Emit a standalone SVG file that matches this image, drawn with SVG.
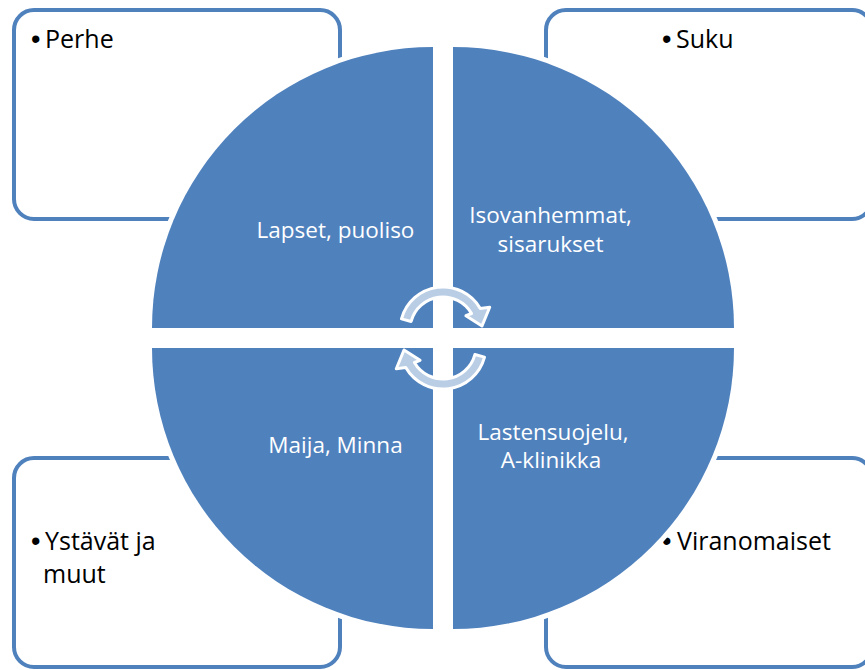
<svg xmlns="http://www.w3.org/2000/svg" width="865" height="670" viewBox="0 0 865 670">
  <style>
    .box { fill: #FFFFFF; stroke: #4F81BD; stroke-width: 4; }
    .sector { fill: #4F81BD; stroke: #FFFFFF; stroke-width: 10; paint-order: stroke; }
    .arrow { fill: #B9CDE5; stroke: #FFFFFF; stroke-width: 3; stroke-linejoin: round; }
    .lbl { font-family: "Open Sans", "Liberation Sans", sans-serif; font-size: 25px; fill: #000000; }
    .bul { font-family: "Liberation Sans", sans-serif; font-size: 27px; }
    .wlbl { font-family: "Open Sans", "Liberation Sans", sans-serif; font-size: 22.5px; fill: #FFFFFF; text-anchor: middle; }
  </style>
  <rect width="865" height="670" fill="#FFFFFF"/>

  <g id="box-perhe">
    <rect class="box" x="14" y="10" width="326" height="209" rx="20" ry="20"/>
    <text class="lbl" y="48"><tspan class="bul" x="31">•</tspan><tspan x="45">Perhe</tspan></text>
  </g>
  <g id="box-suku">
    <rect class="box" x="546" y="10" width="326" height="209" rx="20" ry="20"/>
    <text class="lbl" y="48"><tspan class="bul" x="662">•</tspan><tspan x="676">Suku</tspan></text>
  </g>
  <g id="box-ystavat">
    <rect class="box" x="14" y="458" width="326" height="209" rx="20" ry="20"/>
    <text class="lbl" y="550"><tspan class="bul" x="31">•</tspan><tspan x="45">Ystävät ja</tspan></text>
    <text class="lbl" x="43" y="583">muut</text>
  </g>
  <g id="box-viranomaiset">
    <rect class="box" x="546" y="458" width="326" height="209" rx="20" ry="20"/>
    <text class="lbl" y="550"><tspan class="bul" x="662">•</tspan><tspan x="677">Viranomaiset</tspan></text>
  </g>

  <g id="sector-perhe">
    <path class="sector" d="M433,328 L152,328 A281,281 0 0 1 433,47 Z"/>
    <text class="wlbl" x="335.5" y="238">Lapset, puoliso</text>
  </g>
  <g id="sector-suku">
    <path class="sector" d="M453,328 L453,47 A281,281 0 0 1 734,328 Z"/>
    <text class="wlbl" x="550.5" y="223">Isovanhemmat,</text>
    <text class="wlbl" x="550.5" y="252">sisarukset</text>
  </g>
  <g id="sector-ystavat">
    <path class="sector" d="M433,348 L433,629 A281,281 0 0 1 152,348 Z"/>
    <text class="wlbl" x="335.5" y="453">Maija, Minna</text>
  </g>
  <g id="sector-viranomaiset">
    <path class="sector" d="M453,348 L734,348 A281,281 0 0 1 453,629 Z"/>
    <text class="wlbl" x="553" y="440">Lastensuojelu,</text>
    <text class="wlbl" x="551" y="468">A-klinikka</text>
  </g>

  <g id="connectors">
    <path id="arrow-top" class="arrow" d="M401.47,318.87 A43,43 0 0 1 480.24,308.5 L489.7,307.2 L482,326 L465.9,315.7 L471.58,313.5 A33,33 0 0 0 411.12,321.46 Z"/>
    <path id="arrow-bottom" class="arrow" transform="rotate(180 443 338)" d="M401.47,318.87 A43,43 0 0 1 480.24,308.5 L489.7,307.2 L482,326 L465.9,315.7 L471.58,313.5 A33,33 0 0 0 411.12,321.46 Z"/>
  </g>
</svg>
